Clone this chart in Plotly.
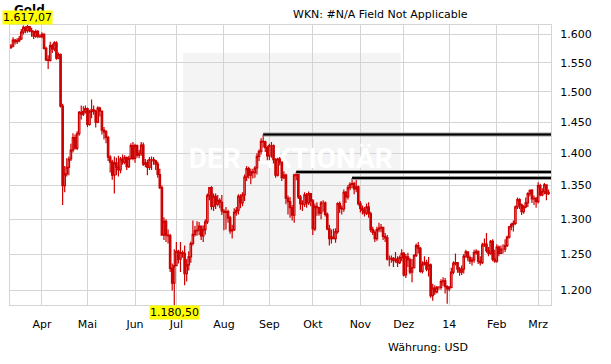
import numpy as np
import pandas as pd
import plotly.graph_objects as go

# ---------------- data (gold, daily OHLC in USD) ----------------
dates = pd.bdate_range("2013-03-11", "2014-03-10")

opens = [
    1577, 1579, 1590, 1587, 1589, 1592, 1604, 1613, 1607, 1614,
    1607, 1605, 1597, 1605, 1597, 1596, 1600, 1575, 1555, 1554,
    1580, 1574, 1585, 1558, 1564, 1476, 1350, 1368, 1378, 1391,
    1405, 1425, 1408, 1431, 1466, 1463, 1467, 1472, 1446, 1467,
    1470, 1468, 1450, 1473, 1468, 1437, 1434, 1425, 1394, 1386,
    1366, 1385, 1378, 1374, 1391, 1386, 1393, 1379, 1392, 1412,
    1392, 1412, 1397, 1400, 1413, 1383, 1385, 1378, 1390, 1390,
    1388, 1383, 1367, 1347, 1277, 1297, 1277, 1276, 1230, 1210,
    1234, 1254, 1243, 1252, 1251, 1223, 1235, 1246, 1265, 1278,
    1283, 1284, 1290, 1276, 1285, 1296, 1335, 1347, 1319, 1334,
    1322, 1328, 1325, 1312, 1310, 1311, 1302, 1283, 1285, 1310,
    1313, 1334, 1324, 1336, 1363, 1376, 1366, 1371, 1370, 1377,
    1395, 1403, 1419, 1418, 1409, 1396, 1412, 1412, 1390, 1366,
    1391, 1386, 1362, 1366, 1331, 1326, 1317, 1306, 1366, 1367,
    1333, 1323, 1322, 1336, 1324, 1338, 1327, 1286, 1319, 1317,
    1309, 1324, 1324, 1307, 1286, 1272, 1274, 1272, 1282, 1323,
    1316, 1315, 1340, 1333, 1347, 1352, 1353, 1345, 1348, 1323,
    1316, 1313, 1309, 1318, 1308, 1285, 1281, 1272, 1285, 1287,
    1288, 1275, 1273, 1243, 1243, 1244, 1241, 1243, 1238, 1245,
    1251, 1221, 1246, 1242, 1225, 1231, 1248, 1262, 1258, 1226,
    1236, 1238, 1229, 1235, 1193, 1203, 1198, 1204, 1204, 1212,
    1213, 1205, 1202, 1204, 1225, 1237, 1238, 1229, 1225, 1229,
    1247, 1253, 1245, 1240, 1242, 1252, 1254, 1240, 1238, 1263,
    1264, 1255, 1251, 1268, 1243, 1240, 1260, 1251, 1257, 1257,
    1262, 1274, 1289, 1292, 1294, 1318, 1329, 1321, 1311, 1318,
    1324, 1338, 1343, 1330, 1331, 1326, 1350, 1336, 1341, 1351,
    1338,
]
highs = [
    1583, 1595, 1592, 1593, 1597, 1610, 1616, 1615, 1617.07, 1615,
    1612, 1607, 1609, 1608, 1600, 1604, 1602, 1578, 1563, 1587,
    1584, 1588, 1588, 1568, 1566, 1480, 1380, 1392, 1395, 1415,
    1432, 1430, 1435, 1468, 1477, 1476, 1477, 1474, 1470, 1487,
    1477, 1470, 1476, 1475, 1469, 1442, 1437, 1428, 1397, 1390,
    1395, 1393, 1396, 1394, 1398, 1397, 1395, 1396, 1416, 1418,
    1415, 1414, 1405, 1418, 1417, 1391, 1390, 1394, 1395, 1394,
    1390, 1387, 1376, 1350, 1303, 1300, 1285, 1279, 1237, 1257,
    1267, 1256, 1267, 1255, 1262, 1243, 1254, 1268, 1298, 1290,
    1297, 1296, 1291, 1291, 1300, 1338, 1348, 1349, 1338, 1338,
    1336, 1331, 1336, 1315, 1318, 1314, 1305, 1292, 1316, 1318,
    1337, 1337, 1340, 1367, 1380, 1379, 1376, 1376, 1380, 1400,
    1406, 1424, 1430, 1420, 1412, 1415, 1418, 1414, 1392, 1393,
    1394, 1387, 1372, 1368, 1335, 1333, 1321, 1368, 1371, 1369,
    1336, 1328, 1340, 1339, 1341, 1339, 1330, 1323, 1325, 1318,
    1327, 1328, 1326, 1310, 1292, 1285, 1286, 1287, 1325, 1326,
    1320, 1344, 1342, 1351, 1355, 1361.5, 1356, 1359, 1350, 1327,
    1320, 1318, 1323, 1325, 1311, 1289, 1284, 1289, 1295, 1293,
    1289, 1280, 1277, 1248, 1248, 1246, 1253, 1247, 1248, 1257,
    1253, 1250, 1252, 1245, 1243, 1250, 1265, 1267, 1260, 1240,
    1247, 1242, 1246, 1237, 1209, 1207, 1206, 1206, 1215, 1218,
    1217, 1207, 1206, 1231, 1240, 1251, 1239, 1232, 1234, 1250,
    1256, 1254, 1248, 1246, 1256, 1257, 1255, 1247, 1266, 1272,
    1280, 1260, 1270, 1271, 1256, 1264, 1262, 1262, 1264, 1271,
    1276, 1290, 1295, 1298, 1320, 1332, 1331, 1323, 1321, 1332,
    1340, 1344, 1345, 1335, 1333, 1355, 1353, 1346, 1354, 1352,
    1344,
]
lows = [
    1574, 1577, 1582, 1583, 1586, 1590, 1600, 1602, 1603, 1604,
    1596, 1592, 1594, 1593, 1594, 1593, 1573, 1553, 1539, 1552,
    1567, 1570, 1555, 1556, 1474, 1321, 1340, 1364, 1366, 1388,
    1401, 1406, 1405, 1428, 1454, 1460, 1464, 1442, 1444, 1456,
    1462, 1441, 1448, 1459, 1430, 1422, 1416, 1388, 1370, 1359,
    1338, 1366, 1364, 1369, 1382, 1383, 1374, 1377, 1390, 1389,
    1385, 1393, 1392, 1396, 1380, 1378, 1366, 1374, 1374, 1382,
    1374, 1362, 1345, 1276, 1270, 1267, 1265, 1225, 1200, 1180.5,
    1233, 1237, 1225, 1245, 1207, 1212, 1227, 1238, 1262, 1275,
    1276, 1277, 1270, 1267, 1278, 1293, 1328, 1314, 1312, 1315,
    1319, 1316, 1306, 1284, 1285, 1295, 1279, 1272, 1283, 1305,
    1307, 1316, 1319, 1327, 1357, 1361, 1352, 1361, 1362, 1367,
    1388, 1398, 1409, 1402, 1389, 1389, 1393, 1384, 1362, 1364,
    1381, 1357, 1360, 1322, 1307, 1302, 1298, 1295, 1358, 1330,
    1314, 1312, 1318, 1317, 1321, 1319, 1277, 1283, 1305, 1305,
    1300, 1311, 1304, 1284, 1262, 1265, 1271, 1266, 1279, 1309,
    1307, 1311, 1324, 1329, 1343, 1346, 1337, 1340, 1320, 1310,
    1307, 1304, 1306, 1302, 1281, 1277, 1267, 1269, 1281, 1281,
    1270, 1267, 1241, 1233, 1238, 1232, 1238, 1232, 1236, 1240,
    1219, 1217, 1232, 1222, 1211, 1230, 1246, 1251, 1224, 1223,
    1234, 1226, 1219, 1190, 1186, 1194, 1196, 1201, 1201, 1206,
    1196, 1182, 1199, 1203, 1222, 1234, 1224, 1220, 1221, 1223,
    1245, 1240, 1236, 1234, 1238, 1249, 1236, 1234, 1236, 1260,
    1252, 1247, 1249, 1240, 1238, 1238, 1247, 1250, 1251, 1253,
    1260, 1272, 1284, 1282, 1292, 1315, 1315, 1306, 1308, 1316,
    1318, 1334, 1324, 1321, 1317, 1323, 1334, 1334, 1337, 1328,
    1336,
]
closes = [
    1579, 1590, 1587, 1589, 1592, 1604, 1613, 1607, 1614, 1607,
    1605, 1597, 1605, 1597, 1596, 1600, 1575, 1555, 1554, 1580,
    1574, 1585, 1558, 1564, 1476, 1350, 1368, 1378, 1391, 1405,
    1425, 1408, 1431, 1466, 1463, 1467, 1472, 1446, 1467, 1470,
    1468, 1450, 1473, 1468, 1437, 1434, 1425, 1394, 1386, 1366,
    1385, 1378, 1374, 1391, 1386, 1393, 1379, 1392, 1412, 1392,
    1412, 1397, 1400, 1413, 1383, 1385, 1378, 1390, 1390, 1388,
    1383, 1367, 1347, 1277, 1297, 1277, 1276, 1230, 1210, 1234,
    1254, 1243, 1252, 1251, 1223, 1235, 1246, 1265, 1278, 1283,
    1284, 1290, 1276, 1285, 1296, 1335, 1347, 1319, 1334, 1322,
    1328, 1325, 1312, 1310, 1311, 1302, 1283, 1285, 1310, 1313,
    1334, 1324, 1336, 1363, 1376, 1366, 1371, 1370, 1377, 1395,
    1403, 1419, 1418, 1409, 1396, 1412, 1412, 1390, 1366, 1391,
    1386, 1362, 1366, 1331, 1326, 1317, 1306, 1366, 1367, 1333,
    1323, 1322, 1336, 1324, 1338, 1327, 1286, 1319, 1317, 1309,
    1324, 1324, 1307, 1286, 1272, 1274, 1272, 1282, 1323, 1316,
    1315, 1340, 1333, 1347, 1352, 1353, 1345, 1348, 1323, 1316,
    1313, 1309, 1318, 1308, 1285, 1281, 1272, 1285, 1287, 1288,
    1275, 1273, 1243, 1243, 1244, 1241, 1243, 1238, 1245, 1251,
    1221, 1246, 1242, 1225, 1231, 1248, 1262, 1258, 1226, 1236,
    1238, 1229, 1235, 1193, 1203, 1198, 1204, 1204, 1212, 1213,
    1205, 1202, 1204, 1225, 1237, 1238, 1229, 1225, 1229, 1247,
    1253, 1245, 1240, 1242, 1252, 1254, 1240, 1238, 1263, 1264,
    1255, 1251, 1268, 1243, 1240, 1260, 1251, 1257, 1257, 1262,
    1274, 1289, 1292, 1294, 1318, 1329, 1321, 1311, 1318, 1324,
    1338, 1343, 1330, 1331, 1326, 1350, 1336, 1341, 1351, 1338,
    1340,
]

month_ticks = ["2013-04-01", "2013-05-01", "2013-06-03", "2013-07-01",
               "2013-08-01", "2013-09-02", "2013-10-01", "2013-11-01",
               "2013-12-02", "2014-01-01", "2014-02-03", "2014-03-03"]
month_labels = ["Apr", "Mai", "Jun", "Jul", "Aug", "Sep", "Okt", "Nov",
                "Dez", "14", "Feb", "Mrz"]
y_ticks = [1200, 1250, 1300, 1350, 1400, 1450, 1500, 1550, 1600]
resistance_dates = ["2013-08-28", "2013-09-19", "2013-10-28"]

# ---------------- helpers ----------------
RED = "#cc0000"
GRID = "#d4d4d4"
FONT = "DejaVu Sans"
x_range = ["2013-03-08 13:00", "2014-03-11 05:00"]


def de_fmt(v):
    s = f"{v:,.2f}"
    return s.replace(",", "X").replace(".", ",").replace("X", ".")


hi = max(highs)
lo = min(lows)
i_hi = highs.index(hi)
i_lo = lows.index(lo)
date_index = {d.strftime("%Y-%m-%d"): k for k, d in enumerate(dates)}

fig = go.Figure()

# watermark text on the base (hidden) axes -> drawn beneath the candles
fig.add_trace(go.Scatter(
    x=[0.519], y=[0.514], mode="text", text=["DER  AKTIONÄR"],
    textfont=dict(family="Roboto", size=28, color="white", weight=700),
    hoverinfo="skip", showlegend=False, xaxis="x", yaxis="y"))

fig.add_trace(go.Candlestick(
    x=dates, open=opens, high=highs, low=lows, close=closes,
    xaxis="x2", yaxis="y2", whiskerwidth=0,
    increasing=dict(line=dict(color=RED, width=1.2), fillcolor="white"),
    decreasing=dict(line=dict(color=RED, width=1.2), fillcolor=RED),
    showlegend=False, hoverinfo="skip"))

for d in resistance_dates:
    lvl = highs[date_index[d]]
    fig.add_trace(go.Scatter(x=[d, x_range[1]], y=[lvl, lvl], mode="lines",
                             line=dict(color="#9a9a9a", width=4),
                             xaxis="x2", yaxis="y2", hoverinfo="skip",
                             showlegend=False))
    fig.add_trace(go.Scatter(x=[d, x_range[1]], y=[lvl, lvl], mode="lines",
                             line=dict(color="#000000", width=2),
                             xaxis="x2", yaxis="y2", hoverinfo="skip",
                             showlegend=False))

fig.add_shape(type="rect", xref="paper", yref="paper",
              x0=0.32, x1=0.722, y0=0.125, y1=0.9,
              fillcolor="#f4f4f4", line=dict(width=0), layer="below")

fig.update_layout(
    width=611, height=364,
    margin=dict(l=10, r=60, t=25, b=59),
    paper_bgcolor="white", plot_bgcolor="white",
    separators=",.", showlegend=False, boxgap=0.0,
    font=dict(family=FONT, size=11, color="#000000"),
    xaxis=dict(range=[0, 1], visible=False, fixedrange=True),
    yaxis=dict(range=[0, 1], visible=False, fixedrange=True),
    xaxis2=dict(overlaying="x", anchor="y2", type="date", range=x_range,
                rangebreaks=[dict(bounds=["sat", "mon"])],
                tickmode="array", tickvals=month_ticks, ticktext=month_labels,
                showgrid=True, gridcolor=GRID, gridwidth=1,
                showline=True, linecolor=GRID, linewidth=1, mirror=True,
                ticks="", ticklabelstandoff=9,
                rangeslider=dict(visible=False),
                tickfont=dict(family=FONT, size=11, color="#000000")),
    yaxis2=dict(overlaying="y", anchor="x2", side="right", type="log",
                range=[np.log10(lo), np.log10(hi)],
                tickmode="array", tickvals=y_ticks, tickformat=",d",
                showgrid=True, gridcolor=GRID, gridwidth=1,
                showline=True, linecolor=GRID, linewidth=1, mirror=True,
                ticks="", ticklabelstandoff=6,
                tickfont=dict(family=FONT, size=11, color="#000000")),
)

fig.add_annotation(text="<b>Gold</b>", xref="paper", yref="paper",
                   x=0.004, y=1.054, xanchor="left", yanchor="middle",
                   showarrow=False, font=dict(family=FONT, size=12, color="#000"))
fig.add_annotation(text=de_fmt(hi), xref="x2", yref="paper",
                   x=dates[i_hi], y=1.0, xanchor="center", yanchor="bottom",
                   showarrow=False, bgcolor="#ffff00", borderpad=0,
                   font=dict(family=FONT, size=11, color="#000"))
fig.add_annotation(text=de_fmt(lo), xref="x2", yref="paper",
                   x=dates[i_lo], y=0.0, xanchor="center", yanchor="top",
                   showarrow=False, bgcolor="#ffff00", borderpad=0,
                   font=dict(family=FONT, size=11, color="#000"))
fig.add_annotation(text="WKN: #N/A Field Not Applicable", xref="paper", yref="paper",
                   x=0.519, y=1.039, xanchor="left", yanchor="middle",
                   showarrow=False, font=dict(family=FONT, size=11, color="#000"))
fig.add_annotation(text="Währung: USD", xref="paper", yref="paper",
                   x=0.695, y=-0.15, xanchor="left", yanchor="middle",
                   showarrow=False, font=dict(family=FONT, size=11, color="#000"))

fig.write_html("out.html",
               config={"displayModeBar": False},
               post_script="document.body.style.margin='0';"
                           "document.body.style.overflow='hidden';")
